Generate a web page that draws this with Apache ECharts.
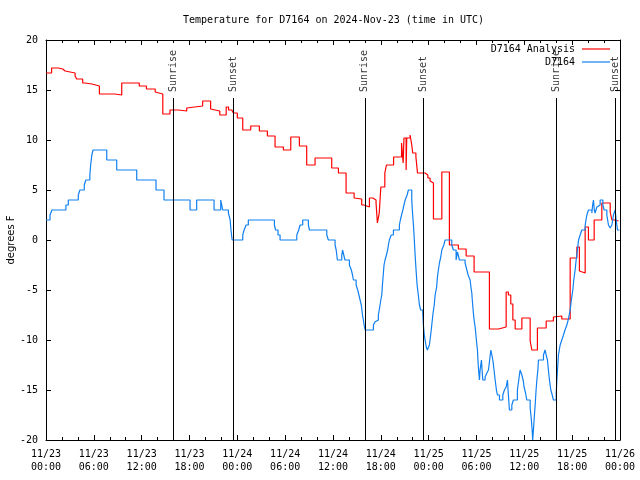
<!DOCTYPE html>
<html>
<head>
<meta charset="utf-8">
<script src="https://cdn.jsdelivr.net/npm/echarts@6/dist/echarts.min.js"></script>
<style>html,body{margin:0;padding:0;background:#fff}#c{width:640px;height:480px}</style>
</head>
<body>
<div id="c"></div>
<script>
// Hours since 2024-11-23 00:00 UTC
const tickLabels = ['11/23\n00:00','11/23\n06:00','11/23\n12:00','11/23\n18:00','11/24\n00:00','11/24\n06:00','11/24\n12:00','11/24\n18:00','11/25\n00:00','11/25\n06:00','11/25\n12:00','11/25\n18:00','11/26\n00:00'];

const analysisSeries = [
[0,16.7],[0.7,17.2],[1.55,17.1],[2.1,16.9],[2.4,16.7],[3.65,16.4],[3.85,16.1],[4.6,15.7],[4.9,15.6],[5.75,15.4],
[6.7,14.6],[8.65,14.5],[9.5,15.7],[11.7,15.4],[12.6,15.1],[13.7,14.8],[13.9,14.6],[14.65,12.6],[15.55,13.0],[16.6,12.9],
[17.65,13.2],[17.85,13.4],[19.65,13.9],[20.65,13.1],[20.9,12.9],[21.8,12.5],[22.6,13.3],[22.9,13.0],[23.3,12.8],[23.5,12.7],
[24.0,12.2],[24.68,11.0],[25.68,11.4],[26.77,10.9],[27.77,10.4],[28.73,9.3],[29.78,9.0],[30.7,10.3],[31.78,9.4],[32.7,7.5],
[33.75,8.2],[35.84,7.2],[36.68,6.7],[37.64,4.7],[38.65,4.2],[38.9,4.1],[39.6,3.5],[39.9,3.3],[40.57,4.2],[40.99,4.0],
[41.4,3.7],[41.57,1.7],[41.8,2.7],[42.0,5.3],[42.5,6.7],[42.7,7.5],[43.6,8.3],[44.6,9.7],[44.8,7.7],[44.9,10.2],
[45.17,7.0],[45.25,10.2],[45.67,10.5],[45.88,9.5],[46.0,8.7],[46.4,8.3],[46.6,6.7],[47.55,6.5],[47.9,6.2],[48.18,5.9],
[48.4,5.7],[48.6,2.1],[49.65,6.8],[50.6,-0.5],[51.73,-0.9],[52.7,-1.6],[53.7,-3.2],[55.62,-8.9],[56.75,-8.7],[57.72,-5.2],
[58.0,-5.5],[58.3,-6.4],[58.56,-8.0],[58.85,-8.9],[59.69,-7.8],[60.73,-10.1],[60.94,-11.0],[61.64,-8.8],[62.74,-8.1],[63.65,-7.7],
[63.86,-7.6],[64.7,-7.9],[65.75,-1.8],[66.59,-0.7],[66.91,-3.1],[67.09,-3.3],[67.63,1.3],[68.04,0.0],[68.76,2.0],[69.72,3.7],
[70.77,2.8],[70.98,2.0],[71.39,1.9],[71.8,1.9]
];

const stationSeries = [
[0,2],[0.5,2.5],[0.75,3],[2.5,3.5],[2.8,4],[4.05,4.5],[4.25,5],[4.8,5.5],[5.0,6],[5.5,6.5],[5.6,7.5],[5.75,8.5],[5.9,9],
[7.62,8],[8.87,7],[11.38,6],[13.8,5],[14.8,4],[18.07,3],[18.9,4],[21.08,3],[21.92,4],[22.17,3],[22.88,2.7],[23.1,2],[23.2,1],[23.35,0],
[24.68,0.5],[24.85,1],[25.1,1.5],[25.38,2],[28.65,1.5],[28.8,1],[29.1,0.5],[29.36,0],[31.46,0.5],[31.7,1],[31.87,1.5],[32.2,2],
[32.91,1.5],[33.05,1],[35.22,0.5],[35.42,0],[36.26,-0.5],[36.4,-1],[36.55,-2],[37.1,-1.5],[37.2,-1],[37.35,-1.5],[37.5,-2],
[38.06,-2.5],[38.3,-3],[38.45,-3.5],[38.56,-4],[38.9,-4.5],[39.1,-5],[39.25,-5.5],[39.4,-6],[39.55,-6.5],[39.7,-7.5],[39.81,-8],[39.9,-8.5],[40.03,-9],
[41.07,-8.5],[41.25,-8.2],[41.4,-8],[41.69,-7.5],[41.8,-7],[41.9,-6.5],[42.0,-6],[42.12,-5.5],[42.2,-4.5],[42.3,-3.5],[42.4,-2.5],[42.53,-2],
[42.7,-1.5],[42.85,-1],[42.95,-0.5],[43.07,0],[43.3,0.5],[43.58,1],[44.33,1.5],[44.45,2],[44.6,2.5],[44.76,3],[44.9,3.5],[45.05,4],
[45.3,4.5],[45.46,5],[45.88,4],[45.95,3],[46.09,1.5],[46.2,0],[46.3,-1.5],[46.42,-3],[46.55,-4.5],[46.7,-5.5],[46.84,-6.5],
[47.0,-7],[47.26,-7.3],[47.34,-8.5],[47.45,-9.5],[47.55,-10],[47.7,-10.7],[47.84,-11],[48.09,-10.5],[48.25,-9.5],[48.39,-8.5],[48.55,-7.3],
[48.7,-6.5],[48.81,-5.5],[49.0,-4.7],[49.1,-3.7],[49.22,-3],[49.35,-2.3],[49.52,-1.7],[49.65,-1],[49.9,-0.5],[50.06,0],
[50.9,-0.5],[51.1,-1],[51.44,-2],[51.61,-1.2],[51.86,-2],[52.57,-2.3],[52.79,-3],[52.95,-3.5],[53.2,-4],[53.3,-4.7],[53.41,-5.3],
[53.5,-6.3],[53.61,-7.3],[53.7,-8],[53.83,-8.7],[53.95,-9.7],[54.05,-10.5],[54.12,-11],[54.2,-12.3],[54.29,-13.3],[54.37,-14],
[54.45,-13],[54.62,-12],[54.7,-13],[54.79,-14],[55.08,-13.7],[55.3,-13.3],[55.5,-13],[55.65,-12],[55.8,-11],[56.05,-12],[56.2,-13],
[56.34,-14],[56.5,-15],[56.62,-15.5],[56.88,-16],[57.3,-15.5],[57.5,-15],[57.72,-14.7],[57.88,-14],[58.0,-15.5],[58.13,-17],
[58.43,-16.5],[58.63,-16],[59.13,-15],[59.3,-14],[59.47,-13],[59.69,-13.5],[59.85,-14],[59.97,-14.7],[60.15,-15.3],[60.31,-16],
[60.73,-16.8],[60.85,-17.7],[60.98,-19],[61.05,-20],[61.14,-19],[61.25,-17.7],[61.36,-16.5],[61.45,-15.3],[61.57,-14],[61.7,-13],
[61.77,-12],[62.4,-11.5],[62.6,-11],[62.74,-11.5],[62.9,-12],[63.02,-13],[63.15,-14],[63.32,-15],[63.5,-15.5],[63.65,-16],
[64.0,-15.3],[64.08,-14],[64.2,-12.5],[64.28,-11.5],[64.49,-10.5],[64.7,-10],[64.91,-9.5],[65.1,-9],[65.33,-8.5],[65.5,-8],
[65.75,-7],[65.9,-6],[66.08,-5],[66.2,-4],[66.37,-3],[66.5,-2],[66.66,-1],[66.8,0],[67.0,0.5],[67.21,1],[67.63,1.5],[67.84,2.5],
[68.04,3],[68.47,2.7],[68.57,3.5],[68.67,4],[68.78,3],[68.88,2.7],[69.1,3.3],[69.3,3.5],[69.51,4],[69.85,3.5],[70.01,3],
[70.35,2.5],[70.55,1.5],[70.77,1.2],[70.98,1.5],[71.18,2.5],[71.39,3],[71.52,2],[71.68,1],[71.93,1]
];

const sunTimes = [15.94, 23.45, 39.99, 47.37, 64.03, 71.46];
const sunNames = ['Sunrise','Sunset','Sunrise','Sunset','Sunrise','Sunset'];
const sunLineTop = 14.2;
const sunLabelY = 14.8;

const FONT = 'DejaVu Sans Mono';
const chart = echarts.init(document.getElementById('c'), null, {renderer:'canvas'});

const axisCommon = {
  type:'value', min:0, max:72, interval:6,
  axisLine:{show:true, onZero:false, lineStyle:{color:'#000', width:1}},
  axisTick:{show:true, inside:true, length:5, lineStyle:{color:'#000'}},
  minorTick:{show:true, splitNumber:3, length:3, lineStyle:{color:'#000'}},
  splitLine:{show:false}
};
const yCommon = {
  type:'value', min:-20, max:20, interval:5,
  axisLine:{show:true, onZero:false, lineStyle:{color:'#000', width:1}},
  axisTick:{show:true, inside:true, length:5, lineStyle:{color:'#000'}},
  splitLine:{show:false}
};

chart.setOption({
  animation:false,
  backgroundColor:'#fff',
  title:{
    text:'Temperature for D7164 on 2024-Nov-23 (time in UTC)',
    left:183, top:15, padding:0,
    textStyle:{fontFamily:FONT, fontSize:10, fontWeight:'normal', color:'#000'}
  },
  grid:{left:46, right:20, top:40, bottom:40, containLabel:false, outerBoundsMode:'none'},
  legend:[
    {data:['D7164 Analysis'], right:30, top:44, orient:'vertical', align:'right', icon:'rect', itemWidth:28, itemHeight:1.2, itemGap:0,
     textStyle:{fontFamily:FONT, fontSize:10, color:'#000', padding:[0,2,0,0]}, padding:0, selectedMode:false},
    {data:['D7164'], right:30, top:57, orient:'vertical', align:'right', icon:'rect', itemWidth:28, itemHeight:1.2, itemGap:0,
     textStyle:{fontFamily:FONT, fontSize:10, color:'#000', padding:[0,2,0,0]}, padding:0, selectedMode:false}
  ],
  xAxis:[
    Object.assign({}, axisCommon, {position:'bottom',
      axisLabel:{show:true, margin:8, fontFamily:FONT, fontSize:10, color:'#000', lineHeight:13,
        formatter:function(v){ return tickLabels[Math.round(v/6)]; }}}),
    Object.assign({}, axisCommon, {position:'top', axisLabel:{show:false}})
  ],
  yAxis:[
    Object.assign({}, yCommon, {position:'left',
      name:'degrees F', nameLocation:'middle', nameGap:30, nameRotate:90, nameMoveOverlap:false,
      nameTextStyle:{fontFamily:'DejaVu Sans', fontSize:10, color:'#000'},
      axisLabel:{show:true, margin:8, fontFamily:FONT, fontSize:10, color:'#000'}}),
    Object.assign({}, yCommon, {position:'right', axisLabel:{show:false}})
  ],
  series:[
    {
      name:'sun', type:'scatter', symbolSize:0, silent:true,
      data: sunTimes.map(function(t,i){ return {value:[t, sunLabelY], name:sunNames[i]}; }),
      label:{show:true, position:'inside', align:'left', verticalAlign:'middle', rotate:90,
        formatter:function(p){ return p.name; }, fontFamily:FONT, fontSize:10, color:'#000'},
      markLine:{
        silent:true, symbol:['none','none'], label:{show:false},
        lineStyle:{color:'#000', width:1, type:'solid'},
        data: sunTimes.map(function(t){ return [{coord:[t,-20]},{coord:[t,sunLineTop]}]; })
      }
    },
    {
      name:'D7164 Analysis', type:'line', step:'end', showSymbol:false, symbol:'none',
      data:analysisSeries, color:'#ff0000', lineStyle:{color:'#ff0000', width:1.2}
    },
    {
      name:'D7164', type:'line', step:'end', showSymbol:false, symbol:'none',
      data:stationSeries, color:'#1080f0', lineStyle:{color:'#1080f0', width:1.2}
    }
  ]
});
</script>
</body>
</html>
